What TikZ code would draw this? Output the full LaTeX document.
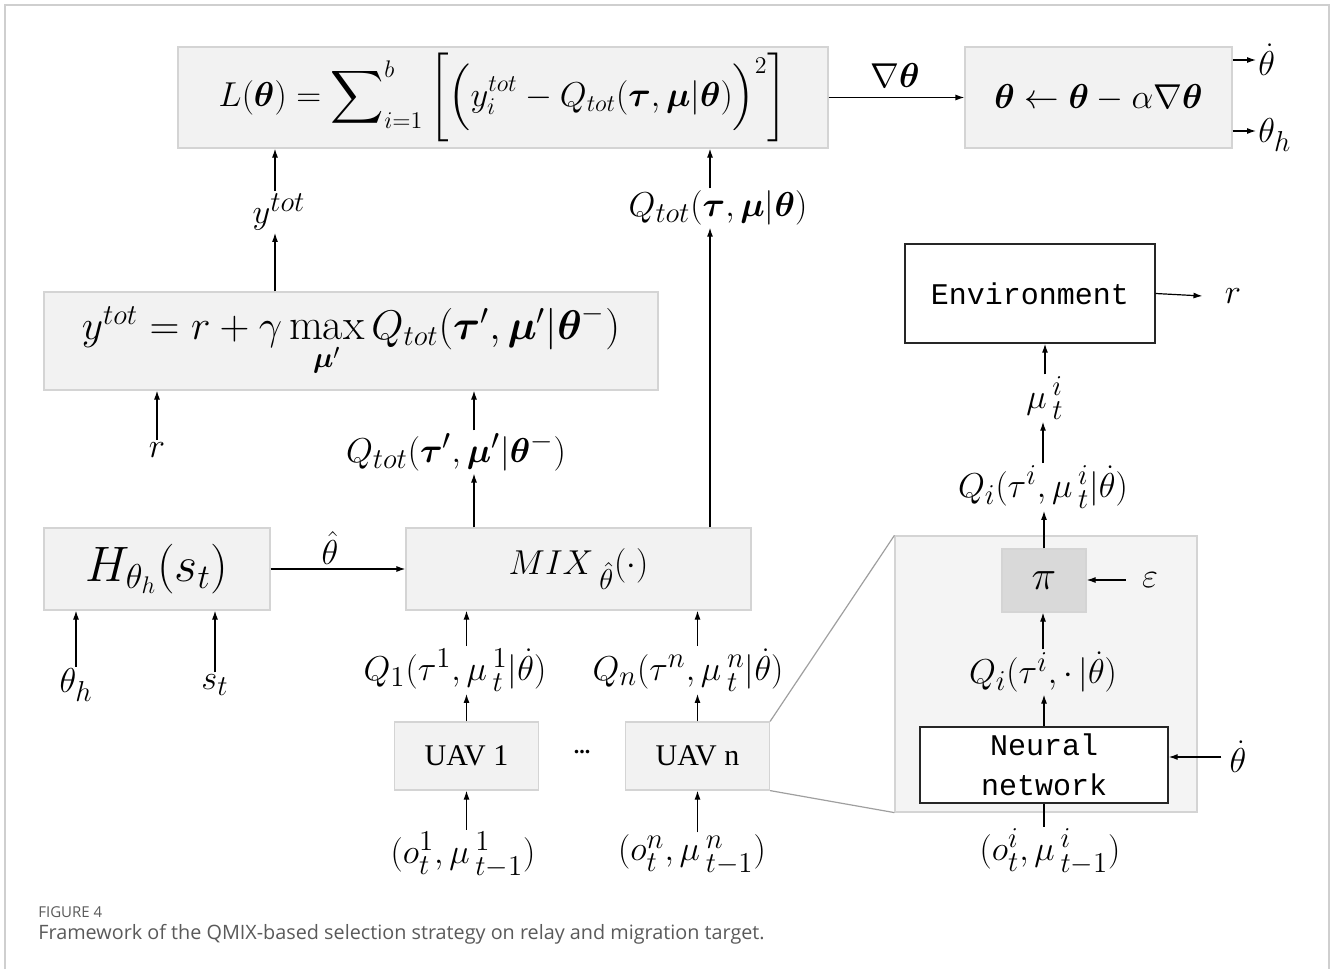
\documentclass[tikz,border=0pt]{standalone}
\usepackage{amsmath}
\usepackage{amssymb}
\usepackage{fontspec}
\newfontfamily\uavfont{Liberation Serif}
\newfontfamily\envfont{Liberation Mono}
\newfontfamily\capfont{Open Sans}
\usetikzlibrary{arrows.meta}
\definecolor{boxfill}{HTML}{F2F2F2}
\definecolor{boxline}{HTML}{D4D4D4}
\definecolor{panelfill}{HTML}{F4F4F4}
\definecolor{pifill}{HTML}{D9D9D9}
\definecolor{framegray}{HTML}{CFCFCF}
\definecolor{capgray}{HTML}{5A5A5A}
\begin{document}
\begin{tikzpicture}[
          x=0.5pt, y=-0.5pt,
          >={Latex[length=4.5pt,width=3pt]},
          blk/.style={rectangle, draw=boxline, fill=boxfill, line width=0.6pt,
                      inner sep=0pt, font=\fontsize{19}{21}\selectfont},
          wbox/.style={rectangle, draw=black!85, fill=white, line width=0.7pt,
                      inner sep=0pt, align=center,
                      font=\envfont\fontsize{15}{20}\selectfont},
          uav/.style={blk, minimum width=72pt, minimum height=34pt,
                      font=\uavfont\fontsize{15}{17}\selectfont},
          lab/.style={inner sep=1pt, font=\fontsize{19}{21}\selectfont},
          flow/.style={->, line width=0.6pt},
          zoomline/.style={draw=gray!75, line width=0.6pt}
        ]
          \useasboundingbox (0,0) rectangle (1333,969);
          \draw[framegray, line width=0.8pt] (5,969) -- (5,5) -- (1329,5) -- (1329,969);
          \node[blk, minimum width=151pt, minimum height=138pt, fill=panelfill] (panel) at (1046,674) {};
          \node[blk, minimum width=325pt, minimum height=50.5pt, font=\fontsize{18.5}{21}\selectfont] (loss) at (503,97.5)
            {$L(\boldsymbol{\theta}) = \displaystyle\sum\nolimits_{i=1}^{b}\bigg[\Big(y_i^{tot} - Q_{tot}(\boldsymbol{\tau},\boldsymbol{\mu}|\boldsymbol{\theta})\Big)^{2}\bigg]$};
          \node[blk, minimum width=133.5pt, minimum height=50.5pt, font=\fontsize{18}{20}\selectfont] (upd) at (1098.5,97.5)
            {$\boldsymbol{\theta} \leftarrow \boldsymbol{\theta} - \alpha\nabla\boldsymbol{\theta}$};
          \node[lab] (grad)  at (895,75)   {$\nabla\boldsymbol{\theta}$};
          \node[lab, anchor=west] (thdot) at (1256,60)  {$\dot{\theta}$};
          \node[lab, anchor=west] (thh)   at (1256,135) {$\theta_h$};
          \node[lab] (ytot)  at (279,212)  {$y^{tot}$};
          \node[lab] (qtot)  at (718,208)  {$Q_{tot}(\boldsymbol{\tau},\boldsymbol{\mu}|\boldsymbol{\theta})$};
          \node[blk, minimum width=307pt, minimum height=49pt, font=\fontsize{22}{24}\selectfont] (target) at (351,341)
            {$y^{tot} = r + \gamma \max\limits_{\boldsymbol{\mu}'} Q_{tot}(\boldsymbol{\tau}',\boldsymbol{\mu}'|\boldsymbol{\theta}^{-})$};
          \node[lab] (rlab)  at (157,450)  {$r$};
          \node[lab] (qtp)   at (456,452)  {$Q_{tot}(\boldsymbol{\tau}',\boldsymbol{\mu}'|\boldsymbol{\theta}^{-})$};
          \node[wbox, minimum width=125pt, minimum height=49.5pt] (env) at (1030,293.5) {Environment};
          \node[lab] (renv)  at (1233,296) {$r$};
          \node[lab] (mu)    at (1045,398) {$\mu\,{}^{i}_{t}$};
          \node[lab] (qi)    at (1043,487) {$Q_i(\tau^i,\mu\,{}^{i}_{t}|\dot{\theta})$};
          \node[blk, minimum width=42pt, minimum height=31.5pt, fill=pifill,
                font=\fontsize{21}{22}\selectfont] (pi) at (1044,580.5) {$\pi$};
          \node[lab] (eps)   at (1150,580) {$\varepsilon$};
          \node[lab] (qic)   at (1043,672) {$Q_i(\tau^i,\cdot\,|\dot{\theta})$};
          \node[wbox, minimum width=124pt, minimum height=38pt] (nn) at (1044,765) {Neural\\network};
          \node[lab] (thd2)  at (1238,757) {$\dot{\theta}$};
          \node[lab] (oi)    at (1050,852) {$(o_t^i,\mu\,{}^{i}_{t-1})$};
          \node[blk, minimum width=113pt, minimum height=41pt, font=\fontsize{23}{25}\selectfont] (hbox) at (157,569) {$H_{\theta_h}(s_t)$};
          \node[blk, minimum width=172.5pt, minimum height=41pt] (mix) at (578.5,569) {$MIX\,{}_{\hat{\theta}}(\cdot)$};
          \node[lab] (thhat) at (330,548)  {$\hat{\theta}$};
          \node[lab] (thin)  at (76,685)   {$\theta_h$};
          \node[lab] (st)    at (215,685)  {$s_t$};
          \node[lab] (q1)    at (455,670)  {$Q_1(\tau^1,\mu\,{}^{1}_{t}|\dot{\theta})$};
          \node[lab] (qn)    at (688,670)  {$Q_n(\tau^n,\mu\,{}^{n}_{t}|\dot{\theta})$};
          \node[uav] (uav1)  at (466.5,756) {UAV 1};
          \node[uav] (uavn)  at (697.5,756) {UAV n};
          \node[inner sep=0pt, font=\uavfont\fontsize{11}{12}\selectfont\bfseries] (dots) at (582,752) {...};
          \node[lab] (o1)    at (463,855)  {$(o_t^1,\mu\,{}^{1}_{t-1})$};
          \node[lab] (on)    at (692,855)  {$(o_t^n,\mu\,{}^{n}_{t-1})$};
          \draw[zoomline] (uavn.north east) -- (panel.north west);
          \draw[zoomline] (uavn.south east) -- (panel.south west);
          \draw[flow] (loss.east) -- (upd.west);
          \draw[flow] (upd.east |- thdot.west) -- (thdot.west);
          \draw[flow] ([yshift=2pt]upd.east |- thh.west) -- ([yshift=2pt]thh.west);
          \draw[flow] ([xshift=-2pt]ytot.north) -- ([xshift=-2pt]ytot.north |- loss.south);
          \draw[flow] ([xshift=-2pt]ytot.south |- target.north) -- ([xshift=-2pt]ytot.south);
          \draw[flow] ([xshift=-4pt]qtot.north) -- ([xshift=-4pt]qtot.north |- loss.south);
          \draw[flow] ([xshift=-4pt]qtot.south |- mix.north) -- ([xshift=-4pt]qtot.south);
          \draw[flow] (rlab.north) -- (rlab.north |- target.south);
          \draw[flow] ([xshift=9pt]qtp.north) -- ([xshift=9pt]qtp.north |- target.south);
          \draw[flow] ([xshift=9pt]qtp.south |- mix.north) -- ([xshift=9pt]qtp.south);
          \draw[flow] (env.east) -- ([xshift=-10pt]renv.west);
          \draw[flow] (mu.north) -- (mu.north |- env.south);
          \draw[flow] (qi.north) -- (qi.north |- mu.south);
          \draw[flow] (pi.north) -- (pi.north |- qi.south);
          \draw[flow] ([xshift=-7pt]eps.west) -- (eps.west -| pi.east);
          \draw[flow] (qic.north) -- (qic.north |- pi.south);
          \draw[flow] (nn.north) -- (nn.north |- qic.south);
          \draw[flow] ([xshift=-3pt]thd2.west) -- (thd2.west -| nn.east);
          \draw[line width=0.6pt] (nn.south) -- (nn.south |- oi.north);
          \draw[flow] (hbox.east) -- (mix.west);
          \draw[flow] (thin.north) -- (thin.north |- hbox.south);
          \draw[flow] (st.north) -- (st.north |- hbox.south);
          \draw[flow] (uav1.north) -- (uav1.north |- q1.south);
          \draw[flow] (uav1.north |- q1.north) -- (uav1.north |- mix.south);
          \draw[flow] (uavn.north) -- (uavn.north |- qn.south);
          \draw[flow] (uavn.north |- qn.north) -- (uavn.north |- mix.south);
          \draw[flow] (uav1.south |- o1.north) -- (uav1.south);
          \draw[flow] (uavn.south |- on.north) -- (uavn.south);
          \node[anchor=west, inner sep=0pt, text=capgray, font=\capfont\fontsize{7.5}{9}\selectfont] (fig) at (38,912) {FIGURE 4};
          \node[anchor=west, inner sep=0pt, text=capgray, font=\capfont\fontsize{9.9}{12}\selectfont] (cap) at (38,934)
            {Framework of the QMIX-based selection strategy on relay and migration target.};
        \end{tikzpicture}
\end{document}
